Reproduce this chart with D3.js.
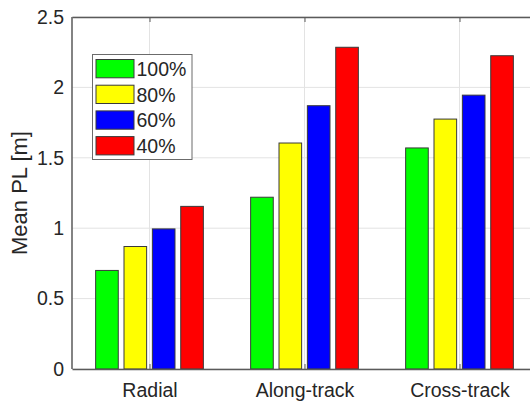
<!DOCTYPE html>
<html>
<head>
<meta charset="utf-8">
<script src="https://cdn.jsdelivr.net/npm/d3@7"></script>
<style>
  body { margin: 0; background: #fff; }
  text { font-family: "Liberation Sans", Arial, sans-serif; fill: #262626; }
</style>
</head>
<body>
<div id="chart"></div>
<script>
const categories = ['Radial', 'Along-track', 'Cross-track'];
const seriesNames = ['100%', '80%', '60%', '40%'];
const seriesColors = ['#00ff00', '#ffff00', '#0000ff', '#ff0000'];
const pl100 = [0.70, 1.22, 1.57];
const pl80 = [0.87, 1.605, 1.775];
const pl60 = [0.995, 1.87, 1.945];
const pl40 = [1.155, 2.285, 2.225];
const yTicks = [0, 0.5, 1, 1.5, 2, 2.5];

const series = [pl100, pl80, pl60, pl40];

const width = 530, height = 402;
const margin = {top: 17, right: -7, bottom: 33, left: 72};
const plotW = width - margin.left - margin.right,
      plotH = height - margin.top - margin.bottom;

const svg = d3.select('#chart').append('svg')
    .attr('width', width)
    .attr('height', height);

const g = svg.append('g')
    .attr('transform', 'translate(' + margin.left + ',' + margin.top + ')');

const xScale = d3.scaleLinear().domain([0.5, 3.5]).range([0, plotW]);
const yScale = d3.scaleLinear().domain([0, 2.5]).range([plotH, 0]);

// grid
g.selectAll('.hgrid').data(yTicks).enter().append('line')
    .attr('x1', 0).attr('x2', plotW)
    .attr('y1', d => yScale(d)).attr('y2', d => yScale(d))
    .style('stroke', '#e3e3e3').style('stroke-width', 1);
g.selectAll('.vgrid').data(categories).enter().append('line')
    .attr('x1', (d, i) => xScale(i + 1)).attr('x2', (d, i) => xScale(i + 1))
    .attr('y1', 0).attr('y2', plotH)
    .style('stroke', '#e3e3e3').style('stroke-width', 1);

// bars
const barPitch = xScale(0.183) - xScale(0);
const barW = xScale(0.146) - xScale(0);
series.forEach(function(vals, s) {
  g.selectAll('.bar' + s).data(vals).enter().append('rect')
      .attr('x', (d, i) => xScale(i + 1) + (s - 1.5) * barPitch - barW / 2)
      .attr('y', d => yScale(d))
      .attr('width', barW)
      .attr('height', d => yScale(0) - yScale(d))
      .style('fill', seriesColors[s])
      .style('stroke', '#3a3a3a')
      .style('stroke-width', 1);
});

// axes
const yAxis = g.append('g')
    .call(d3.axisLeft(yScale).tickValues(yTicks).tickFormat(d3.format('')).tickSize(0).tickPadding(8));
const yAxisR = g.append('g')
    .attr('transform', 'translate(' + plotW + ',0)')
    .call(d3.axisLeft(yScale).tickValues(yTicks).tickSize(-5).tickFormat(''));
const xAxis = g.append('g')
    .attr('transform', 'translate(0,' + plotH + ')')
    .call(d3.axisBottom(xScale).tickValues([1, 2, 3]).tickFormat((d, i) => categories[i]).tickSizeInner(-5).tickSizeOuter(0).tickPadding(14));
const xAxisTop = g.append('g')
    .call(d3.axisTop(xScale).tickValues([1, 2, 3]).tickFormat('').tickSizeInner(-5).tickSizeOuter(0));

[yAxis, yAxisR, xAxis, xAxisTop].forEach(function(a) {
  a.selectAll('.domain').style('stroke', '#5a5a5a').style('stroke-width', 1.5);
  a.selectAll('.tick line').style('stroke', '#5a5a5a');
  a.selectAll('text').style('font-size', '19.5px').style('fill', '#262626')
      .style('font-family', '"Liberation Sans", Arial, sans-serif');
});
yAxis.selectAll('.domain').attr('d', 'M0,0V' + plotH);

svg.append('text')
    .attr('transform', 'translate(27,' + (margin.top + plotH / 2) + ') rotate(-90)')
    .style('text-anchor', 'middle')
    .style('font-size', '22px')
    .text('Mean PL [m]');

// legend
const legend = svg.append('g').attr('transform', 'translate(92.5,54.5)');
legend.append('rect')
    .attr('width', 99.5).attr('height', 105)
    .style('fill', '#fff').style('stroke', '#6b6b6b').style('stroke-width', 1);
seriesNames.forEach(function(name, i) {
  legend.append('rect')
      .attr('x', 3.5).attr('y', 5 + i * 25.7)
      .attr('width', 38).attr('height', 18.3)
      .style('fill', seriesColors[i]).style('stroke', '#3a3a3a');
  legend.append('text')
      .attr('x', 44).attr('y', 14.5 + i * 25.7)
      .attr('dy', '0.35em')
      .style('font-size', '19.5px')
      .text(name);
});
</script>
</body>
</html>
